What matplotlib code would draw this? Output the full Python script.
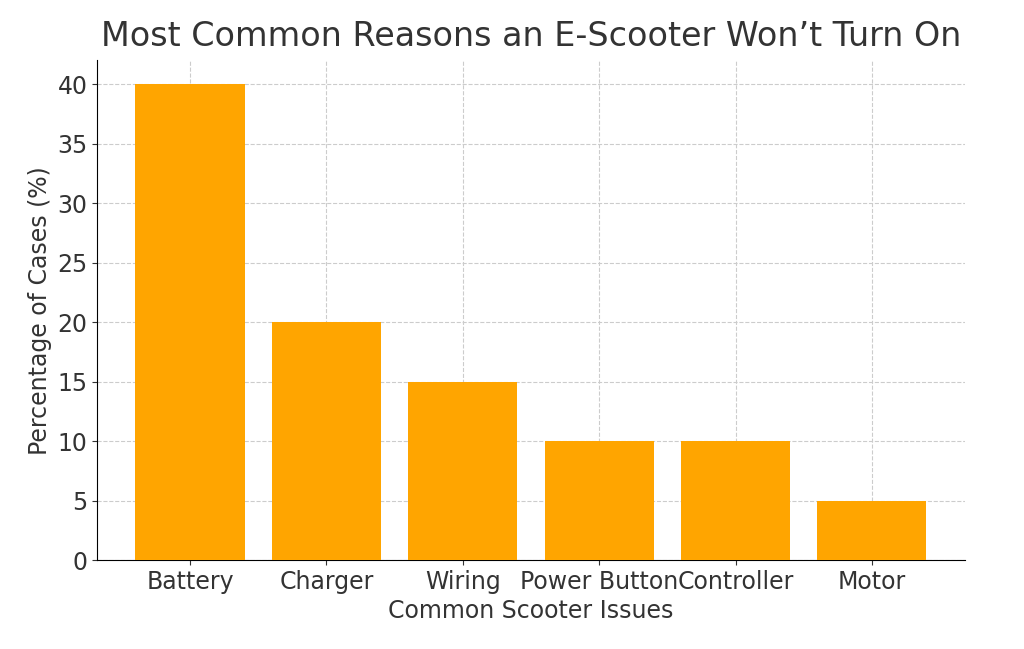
import matplotlib.pyplot as plt

issues = ["Battery", "Charger", "Wiring", "Power Button", "Controller", "Motor"]
percentages = [40, 20, 15, 10, 10, 5]

plt.rcParams['text.color'] = '#333333'
plt.rcParams['axes.labelcolor'] = '#333333'
plt.rcParams['xtick.color'] = '#333333'
plt.rcParams['ytick.color'] = '#333333'

fig = plt.figure(figsize=(10.24, 6.49), dpi=100)
ax = fig.add_axes([0.095, 0.137, 0.847, 0.77])
ax.bar(range(len(issues)), percentages, width=0.8, color='#FFA500', zorder=3)
ax.set_xticks(range(len(issues)))
ax.set_xticklabels(issues, fontsize=17)
ax.tick_params(axis='y', labelsize=17)
ax.set_xlim(-0.68, 5.68)
ax.set_ylim(0, 42)
ax.set_yticks(range(0, 45, 5))
ax.grid(True, linestyle='--', color='#cccccc', linewidth=0.8, zorder=0)
ax.spines['top'].set_visible(False)
ax.spines['right'].set_visible(False)
ax.set_xlabel("Common Scooter Issues", fontsize=17)
ax.set_ylabel("Percentage of Cases (%)", fontsize=17)
ax.set_title("Most Common Reasons an E-Scooter Won\u2019t Turn On", fontsize=24, pad=10)

fig.savefig("out.png", dpi=100)
